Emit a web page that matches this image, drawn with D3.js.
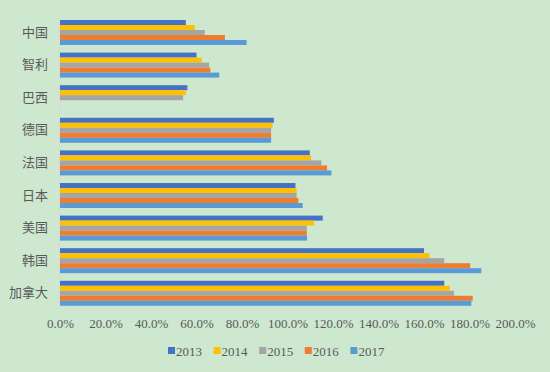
<!DOCTYPE html>
<html>
<head>
<meta charset="utf-8">
<script src="https://cdn.jsdelivr.net/npm/d3@7"></script>
<style>
  html, body { margin: 0; padding: 0; background: #cde8cf; }
  svg text { font-family: "Liberation Serif", "Noto Sans CJK SC", serif; fill: #595959; }
</style>
</head>
<body>
<div id="chart"></div>
<script>
// ------------------------------------------------------------
//  bar chart: ratio by country, 2013–2017
// ------------------------------------------------------------
const countries = ['中国', '智利', '巴西', '德国', '法国', '日本', '美国', '韩国', '加拿大'];
const years     = ['2013', '2014', '2015', '2016', '2017'];
const colors    = ['#4472c4', '#ffc000', '#a5a5a5', '#ed7d31', '#5b9bd5'];

// percent values, one array per year (null = no data)
const v2013 = [55.3, 60.0, 56.0, 94.0, 109.8, 103.5, 115.5, 160.0, 168.9];
const v2014 = [59.2, 62.3, 55.3, 93.4, 110.4, 104.0, 111.7, 162.4, 171.4];
const v2015 = [63.6, 65.5, 54.1, 92.8, 114.9, 104.0, 108.5, 168.9, 173.2];
const v2016 = [72.5, 66.1, null, 92.8, 117.4, 104.8, 108.5, 180.3, 181.4];
const v2017 = [82.0, 70.0, null, 92.8, 119.3, 106.7, 108.6, 185.2, 180.8];
const series = [v2013, v2014, v2015, v2016, v2017];

const xTicks = [0, 20, 40, 60, 80, 100, 120, 140, 160, 180, 200];

const W = 550, H = 372;
const svg = d3.select('#chart').append('svg')
  .attr('width', W).attr('height', H);

svg.append('rect').attr('width', W).attr('height', H).attr('fill', '#cde8cf');

const x  = d3.scaleLinear().domain([0, 200]).range([60, 515]);
const y  = d3.scaleBand().domain(countries).range([12.4, 313.4]).padding(0.233);
const yy = d3.scaleBand().domain(years).range([0, y.bandwidth()]);

/* -------- bars -------- */
const cells = [];
countries.forEach((c, i) => years.forEach((yr, j) => {
  if (series[j][i] != null) cells.push({ c, yr, j, v: series[j][i] });
}));

svg.append('g').selectAll('rect').data(cells).enter().append('rect')
  .attr('x', x(0))
  .attr('y', d => y(d.c) + yy(d.yr))
  .attr('width', d => x(d.v) - x(0))
  .attr('height', yy.bandwidth())
  .attr('fill', d => colors[d.j]);

/* -------- axes -------- */
svg.append('line')
  .attr('x1', x(0) - 0.5).attr('x2', x(0) - 0.5)
  .attr('y1', y(countries[0]) - 1)
  .attr('y2', y(countries[countries.length - 1]) + y.bandwidth() + 2)
  .attr('stroke', '#d9d9d9').attr('stroke-width', 1);

const yAxis = svg.append('g')
  .attr('transform', 'translate(48,0)')
  .call(d3.axisLeft(y).tickSize(0).tickPadding(0));
yAxis.select('.domain').remove();
yAxis.selectAll('text').style('font-size', '13px').style('font-family', null);

const xAxis = svg.append('g')
  .attr('transform', 'translate(0,319)')
  .call(d3.axisBottom(x).tickValues(xTicks).tickSize(0).tickPadding(0)
    .tickFormat(d => d.toFixed(1) + '%'));
xAxis.select('.domain').remove();
xAxis.selectAll('text').style('font-size', '13px').style('font-family', null);

/* -------- legend -------- */
const legend = svg.append('g').attr('transform', 'translate(168,351)');
const item = legend.selectAll('g').data(years).enter().append('g')
  .attr('transform', (d, i) => `translate(${i * 45.6},0)`);
item.append('rect')
  .attr('x', 0).attr('y', -4).attr('width', 7).attr('height', 7)
  .attr('fill', (d, i) => colors[i]);
item.append('text')
  .attr('x', 8).attr('y', 0).attr('dy', '0.35em')
  .style('font-size', '13px')
  .text(d => d);
</script>
</body>
</html>
